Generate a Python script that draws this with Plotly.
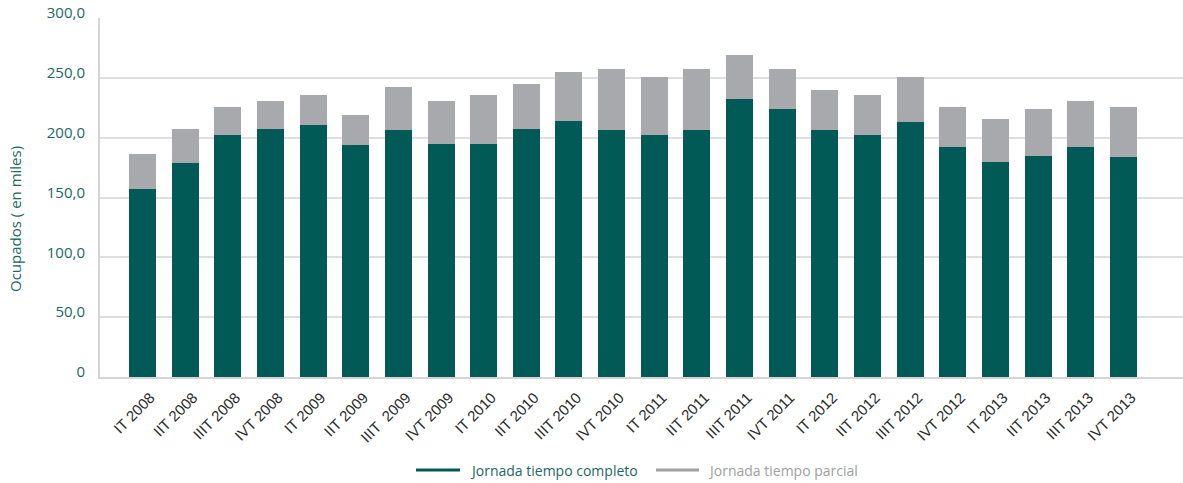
import plotly.graph_objects as go

# Quarterly employed population (thousands), split by working-day type
trimestres = [
    "IT 2008", "IIT 2008", "IIIT 2008", "IVT 2008",
    "IT 2009", "IIT 2009", "IIIT \u00a02009", "IVT 2009",
    "IT 2010", "IIT 2010", "IIIT 2010", "IVT 2010",
    "IT 2011", "IIT 2011", "IIIT 2011", "IVT 2011",
    "IT 2012", "IIT 2012", "IIIT 2012", "IVT 2012",
    "IT 2013", "IIT 2013", "IIIT 2013", "IVT 2013",
]
tiempo_completo = [157, 179, 202, 207, 211, 194, 206, 195, 195, 207, 214, 206,
                   202, 206, 232, 224, 206, 202, 213, 192, 180, 185, 192, 184]
tiempo_parcial = [29, 28, 24, 24, 25, 25, 36, 36, 41, 38, 41, 51,
                  49, 51, 37, 33, 34, 34, 38, 34, 36, 39, 39, 42]

y_ticks = [0, 50, 100, 150, 200, 250, 300]
y_tick_text = ["0", "50,0", "100,0", "150,0", "200,0", "250,0", "300,0"]

serie_completo = "Jornada tiempo completo"
serie_parcial = "Jornada tiempo parcial"

VERDE = "#015a56"
GRIS = "#a8a9ad"
TEAL_TEXT = "#1b6763"
GRID = "#dedede"

W, H = 1183, 483
M_L, M_R, M_T, M_B = 100, 0, 18, 106

fig = go.Figure()
fig.add_trace(go.Bar(x=trimestres, y=tiempo_completo, name=serie_completo,
                     marker=dict(color=VERDE, line=dict(width=0)),
                     showlegend=False))
fig.add_trace(go.Bar(x=trimestres, y=tiempo_parcial, name=serie_parcial,
                     marker=dict(color=GRIS, line=dict(width=0)),
                     showlegend=False))

# Custom line-style legend below the plot
plot_w = W - M_L - M_R
plot_h = H - M_T - M_B


def px_x(px):
    return (px - M_L) / plot_w


def px_y(py):
    return (H - M_B - py) / plot_h


legend_y = px_y(470)
for (x0, x1, tx, color, label) in [
    (416, 460, 468, VERDE, serie_completo),
    (656, 699, 706, "#a0a0a0", serie_parcial),
]:
    fig.add_shape(type="line", xref="paper", yref="paper",
                  x0=px_x(x0), x1=px_x(x1), y0=legend_y, y1=legend_y,
                  line=dict(color=color, width=3))
    fig.add_annotation(xref="paper", yref="paper", x=px_x(tx), y=legend_y,
                       text=label, showarrow=False, xanchor="left", yanchor="middle",
                       font=dict(family="Open Sans", size=14,
                                 color=TEAL_TEXT if color == VERDE else "#a0a0a0"))

# Y axis title
fig.add_annotation(xref="paper", yref="paper", x=px_x(15), y=px_y(219),
                   text="Ocupados ( en miles)", showarrow=False, textangle=-90,
                   xanchor="center", yanchor="middle",
                   font=dict(family="Open Sans", size=15, color=TEAL_TEXT))

fig.update_layout(
    width=W, height=H,
    margin=dict(l=M_L, r=M_R, t=M_T, b=M_B),
    barmode="stack", bargap=0.367,
    plot_bgcolor="white", paper_bgcolor="white",
    showlegend=False,
    xaxis=dict(
        type="category", range=[-0.996, 24.397],
        tickangle=-45, showgrid=False, ticks="",
        tickfont=dict(family="Liberation Sans", size=15, color="#2b2b2b"),
        showline=True, linecolor="#d4d4d4", linewidth=2,
        ticklabelstandoff=4, ticklabelshift=8,
    ),
    yaxis=dict(
        range=[0, 300], tickvals=y_ticks, ticktext=y_tick_text,
        showgrid=True, gridcolor=GRID, gridwidth=2,
        zeroline=False, showline=True, linecolor="#d4d4d4", linewidth=2,
        ticks="", ticklabelstandoff=10, ticklabelshift=-5,
        tickfont=dict(family="Open Sans", size=15, color=TEAL_TEXT),
    ),
)

fig.write_html("out.html")
